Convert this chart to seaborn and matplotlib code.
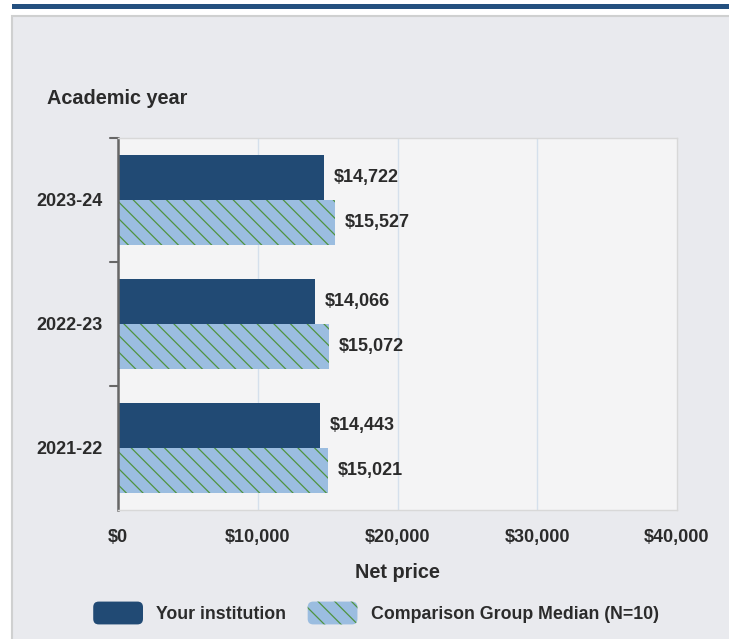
import pandas as pd
import seaborn as sns
import matplotlib.pyplot as plt
from matplotlib.patches import Rectangle, Patch, FancyBboxPatch
from matplotlib.legend_handler import HandlerPatch

years = ['2023-24', '2022-23', '2021-22']
your_inst = [14722, 14066, 14443]
comparison = [15527, 15072, 15021]
series = ['Your institution', 'Comparison Group Median (N=10)']
x_ticks = [0, 10000, 20000, 30000, 40000]

dark = '#214a74'
light = '#9bbde0'
hatch_col = '#4f9440'
txt = '#2b2b2b'

df = pd.DataFrame({
  'year': years * 2,
  'price': your_inst + comparison,
  'group': [series[0]] * 3 + [series[1]] * 3,
})

sns.set_style('white')
plt.rcParams['font.family'] = ['Liberation Sans', 'DejaVu Sans']
plt.rcParams['hatch.color'] = hatch_col
plt.rcParams['hatch.linewidth'] = 0.9

fig = plt.figure(figsize=(7.29, 6.39), dpi=100)
fig.patch.set_facecolor('white')

# top rule and panel
fig.patches.append(Rectangle((12 / 729, 1 - 9 / 639), 1, 5 / 639, transform=fig.transFigure,
                             facecolor='#24507f', edgecolor='none', zorder=-2))
fig.patches.append(Rectangle((12 / 729, -0.01), 1, 1 - 16 / 639 + 0.01, transform=fig.transFigure,
                             facecolor='#e9eaee', edgecolor='#cfd0d0', linewidth=1.5, zorder=-2))

ax = fig.add_axes([118 / 729, 1 - 510 / 639, (677 - 118) / 729, (510 - 138) / 639])
ax.set_zorder(2)
sns.barplot(data=df, y='year', x='price', hue='group', orient='h', width=0.72,
            palette=[dark, light], saturation=1, ax=ax, legend=False, edgecolor='none')

ax.set_facecolor('#f4f4f5')
for c in ax.containers[1]:
  c.set_hatch('\\\\')
  c.set_edgecolor(hatch_col)
  c.set_linewidth(0)

for cont, vals in zip(ax.containers, [your_inst, comparison]):
  ax.bar_label(cont, labels=['${:,}'.format(v) for v in vals], padding=7,
               fontsize=13, fontweight='bold', color=txt)

ax.set_xlim(0, 40000)
ax.set_ylim(2.5, -0.5)
ax.set_xticks(x_ticks)
ax.set_xticklabels(['${:,}'.format(v) for v in x_ticks], fontsize=13, fontweight='bold', color=txt)
ax.set_yticks([0, 1, 2])
ax.set_yticklabels(years, fontsize=13, fontweight='bold', color=txt)
ax.tick_params(axis='y', length=0, pad=11)
ax.tick_params(axis='x', length=0, pad=14)
for v in [-0.5, 0.5, 1.5]:
  ax.plot([-0.015, 0], [v, v], transform=ax.get_yaxis_transform(), color='#666666',
          lw=1.5, clip_on=False)
for v in x_ticks[1:-1]:
  ax.axvline(v, color='#d5e0ec', lw=1, zorder=0)
ax.set_axisbelow(True)

for s in ['top', 'right', 'bottom']:
  ax.spines[s].set_color('#d8d8d8')
  ax.spines[s].set_linewidth(1)
ax.spines['left'].set_color('#666666')
ax.spines['left'].set_linewidth(1.8)

ax.set_ylabel('')
ax.set_xlabel('Net price', fontsize=14.3, fontweight='bold', color=txt, labelpad=12)
fig.text(47 / 729, 1 - 98 / 639, 'Academic year', fontsize=14.3, fontweight='bold',
         color=txt, va='center', ha='left')


def rounded(legend, orig_handle, xdescent, ydescent, width, height, fontsize):
  return FancyBboxPatch((-xdescent, -ydescent), width, height,
                        boxstyle='round,pad=0,rounding_size=4')


handles = [Patch(facecolor=dark, edgecolor='none'),
           Patch(facecolor=light, edgecolor=hatch_col, hatch='\\\\', linewidth=0)]
fig.legend(handles, series, loc='center', bbox_to_anchor=(376 / 729, 1 - 613 / 639),
           ncol=2, frameon=False, handlelength=2.8, handleheight=1.6,
           columnspacing=1.2, handletextpad=0.75, prop={'weight': 'bold', 'size': 12.8},
           handler_map={Patch: HandlerPatch(patch_func=rounded)})
for t in fig.legends[0].get_texts():
  t.set_color(txt)

plt.savefig('out.png', dpi=100)
